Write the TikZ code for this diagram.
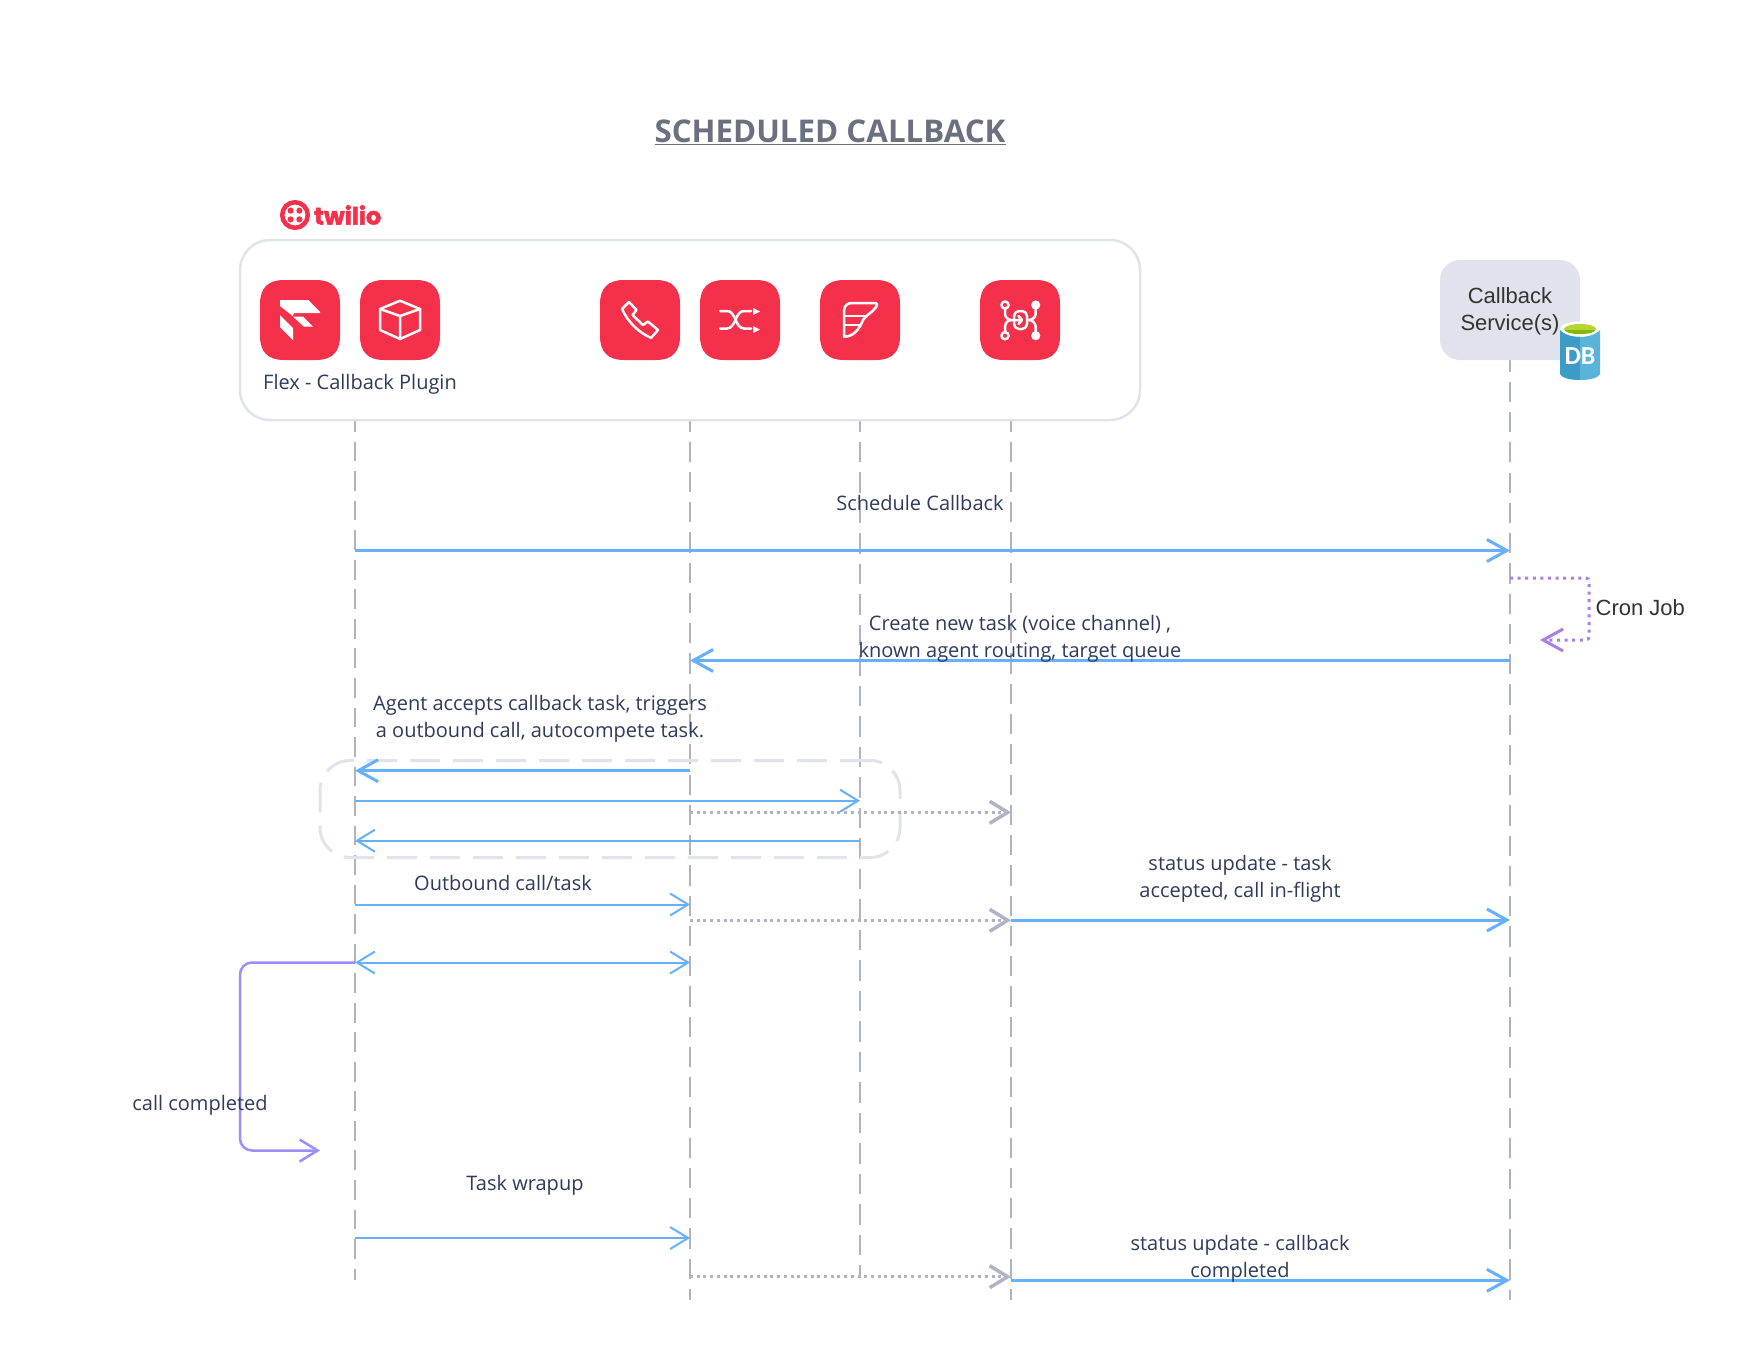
\documentclass[tikz,border=0pt]{standalone}
\usepackage{fontspec}
\setmainfont{Open Sans}
\newfontfamily\arialf{Liberation Sans}
\newfontfamily\dbf{Carlito}
\newfontfamily\logof[BoldFeatures={FakeBold=2}]{Poppins}
\usetikzlibrary{arrows.meta}
\definecolor{flow}{HTML}{66B0FF}
\definecolor{life}{HTML}{B0B3C6}
\definecolor{pale}{HTML}{E0E3EB}
\definecolor{ink}{HTML}{2F3B5C}
\definecolor{tred}{HTML}{F5304B}
\definecolor{lilac}{HTML}{A97FE8}
\definecolor{violet}{HTML}{9B8FFF}
\definecolor{titlec}{HTML}{6B7080}
\definecolor{dbdark}{HTML}{3D9BC8}
\definecolor{dblight}{HTML}{59B4D9}
\definecolor{dblime}{HTML}{B8D432}
\definecolor{dbgreen}{HTML}{7FBA00}
\tikzset{
  lifeline/.style={draw=life,line width=2pt,dash pattern=on 20.2pt off 10.06pt},
  msgbig/.style={draw=flow,line width=3pt,arrows={-Straight Barb[length=20pt,width=22pt,line width=3pt]}},
  msg/.style={draw=flow,line width=2pt,arrows={-Straight Barb[length=18pt,width=22pt,line width=2pt]}},
  msgboth/.style={draw=flow,line width=2pt,arrows={Straight Barb[length=18pt,width=22pt,line width=2pt]-Straight Barb[length=18pt,width=22pt,line width=2pt]}},
  hook/.style={draw=life,line width=2.5pt,dash pattern=on 3pt off 3.7pt,arrows={-Straight Barb[length=18pt,width=22pt,line width=3.5pt]}},
  label/.style={font=\fontsize{20}{27}\selectfont,text=ink,align=center,inner sep=0pt},
  svclabel/.style={font=\arialf\fontsize{22}{27}\selectfont,text=black!80,align=center,inner sep=0pt},
  redicon/.style={fill=tred,draw=none},
  glyph/.style={draw=white,line width=2.5pt,line join=round,line cap=round,fill=none},
  glyphfill/.style={fill=white,draw=none},
  pics/squircle/.style={code={
    \path[redicon] (24,0) -- (56,0) .. controls (72,0) and (80,8) .. (80,24) -- (80,56)
      .. controls (80,72) and (72,80) .. (56,80) -- (24,80)
      .. controls (8,80) and (0,72) .. (0,56) -- (0,24)
      .. controls (0,8) and (8,0) .. (24,0) -- cycle;
  }}
}
\begin{document}
\begin{tikzpicture}[x=1pt,y=-1pt]
\useasboundingbox (0,0) rectangle (1760,1360);
\fill[white] (0,0) rectangle (1760,1360);

% lifelines
\coordinate (lineFlex) at (355,412.2);
\coordinate (lineVoice) at (690,411.4);
\coordinate (lineWing) at (860,411.2);
\coordinate (lineLink) at (1011,411.4);
\coordinate (lineSvc) at (1510,351.5);
\coordinate (endFlex) at (355,1280);
\coordinate (endVoice) at (690,1300);
\coordinate (endWing) at (860,1276);
\coordinate (endLink) at (1011,1300);
\coordinate (endSvc) at (1510,1300);
\draw[lifeline,dash pattern=on 19.7pt off 9.83pt] (lineFlex) -- (endFlex);
\draw[lifeline] (lineVoice) -- (endVoice);
\draw[lifeline,dash pattern=on 20.3pt off 10.2pt] (lineWing) -- (endWing);
\draw[lifeline] (lineLink) -- (endLink);
\draw[lifeline] (lineSvc) -- (endSvc);

% platform frame
\node[draw=pale,fill=white,line width=2.5pt,rounded corners=30pt,minimum width=900pt,minimum height=180pt,inner sep=0pt] (platform) at (690,330) {};

% service box
\node[fill=pale,rounded corners=20pt,minimum width=140pt,minimum height=100pt,inner sep=0pt] (svcbox) at (1510,310) {};
\node[svclabel] (svctext) at (1510,311) {Callback\\Service(s)};

% database
\begin{scope}[shift={(1560,322)}]
  \fill[white] (20,7) ellipse[x radius=20,y radius=7.5];
  \fill[white] (0,7) rectangle (40,14);
  \fill[dbdark] (0,8) .. controls (4,13) and (14,15) .. (20,15) -- (20,58) .. controls (10,58) and (2,56) .. (0,52) -- cycle;
  \fill[dblight] (40,8) .. controls (36,13) and (26,15) .. (20,15) -- (20,58) .. controls (30,58) and (38,56) .. (40,52) -- cycle;
  \fill[dblime] (20,7) ellipse[x radius=16,y radius=5];
  \begin{scope}
    \clip (20,7) ellipse[x radius=16,y radius=5];
    \fill[dbgreen] (4,8) rectangle (36,14);
  \end{scope}
  \node[font=\dbf\bfseries\fontsize{26}{26}\selectfont,text=white,inner sep=0pt] (dbtext) at (20,34) {DB};
\end{scope}

% title
\node[font=\bfseries\fontsize{31.3}{36}\selectfont,text=titlec,inner sep=0pt] (title) at (830,132) {\underline{SCHEDULED CALLBACK}};

% twilio logo
\draw[tred,line width=4.5pt] (295,215) circle[radius=12.8];
\foreach \dx in {-4.4,4.4}\foreach \dy in {-4.4,4.4}{\fill[tred] (295+\dx,215+\dy) circle[radius=3.1];}
\node[font=\logof\bfseries\fontsize{24}{24}\selectfont,text=tred,inner sep=0pt,anchor=west] (twilio) at (314,215) {twilio};

% flex icon
\begin{scope}[shift={(260,280)}]
  \pic {squircle};
  \fill[glyphfill] (20,20) -- (48.3,20) -- (60,32) -- (60,33) -- (34,33) -- (32.7,36) -- (20,26) -- cycle;
  \fill[glyphfill] (33,36.7) -- (43,36.7) -- (53,46.7) -- (44,46.7) -- cycle;
  \fill[glyphfill] (20,35) -- (33,48) -- (33,60) -- (20,47) -- cycle;
\end{scope}
% box icon
\begin{scope}[shift={(360,280)}]
  \pic {squircle};
  \draw[glyph] (40,20.7) -- (60,29) -- (60,50) -- (40,59) -- (20,50) -- (20,29) -- cycle;
  \draw[glyph] (20,29) -- (40,36) -- (60,29) (40,36) -- (40,59);
\end{scope}
% phone icon
\begin{scope}[shift={(600,280)}]
  \pic {squircle};
  \draw[glyph] (22,29) -- (29,22) -- (36.5,30) -- (32.5,35) -- (43,45) -- (48,41.5) -- (58,50) -- (51,58)
     .. controls (38,52) and (28,42) .. (22,29) -- cycle;
\end{scope}
% shuffle icon
\begin{scope}[shift={(700,280)}]
  \pic {squircle};
  \draw[glyph] (20,31) -- (27,31) .. controls (36,31) and (35,48.5) .. (44,48.5) -- (51,48.5);
  \draw[glyph] (20,48.5) -- (27,48.5) .. controls (36,48.5) and (35,31) .. (44,31) -- (51,31);
  \fill[glyphfill] (53,28) -- (60,31.5) -- (53,35) -- cycle;
  \fill[glyphfill] (53,46) -- (60,49.5) -- (53,53) -- cycle;
\end{scope}
% wing icon
\begin{scope}[shift={(820,280)}]
  \pic {squircle};
  \draw[glyph] (24,56.7) -- (24,31) .. controls (24,26) and (27,23) .. (32,23) -- (55,23)
    .. controls (58,23) and (57,26) .. (56,27) .. controls (52,33) and (46,35) .. (43,40) .. controls (39,50) and (33,56.7) .. (24,56.7) -- cycle;
  \draw[glyph] (24,36) -- (46.7,36) (24,45) -- (40,45);
\end{scope}
% link icon
\begin{scope}[shift={(980,280)}]
  \pic {squircle};
  \draw[glyph] (25,25) circle[radius=3.6] (25,55.7) circle[radius=3.6];
  \fill[glyphfill] (55.7,25) circle[radius=4.6] (55.7,55.7) circle[radius=4.6];
  \draw[glyph] (25,29) -- (25,34) .. controls (25,37) and (28,40) .. (31,40) .. controls (28,40) and (25,43) .. (25,47) -- (25,52);
  \draw[glyph] (55.7,29) -- (55.7,34) .. controls (55.7,37) and (52,40) .. (49,40) .. controls (52,40) and (55.7,43) .. (55.7,47) -- (55.7,52);
  \draw[glyph,rounded corners=5pt] (34,31) rectangle (47,49);
  \draw[glyph] (29,40) -- (41,40) (38.5,36) -- (42,40) -- (38.5,44);
\end{scope}

\node[label] (flexlabel) at (360,384.5) {Flex - Callback Plugin};

% group frame
\node[draw=pale,line width=3pt,dash pattern=on 30pt off 13pt,rounded corners=30pt,minimum width=580pt,minimum height=97pt,inner sep=0pt] (group) at (610,809) {};

% messages
\draw[msgbig] (lineFlex |- 0,550.5) -- (lineSvc |- 0,550.5);
\draw[msgbig] (lineSvc |- 0,660.5) -- (lineVoice |- 0,660.5);
\draw[msgbig] (lineVoice |- 0,770.7) -- (lineFlex |- 0,770.7);
\draw[msg] (lineFlex |- 0,800.7) -- (lineWing |- 0,800.7);
\draw[msg] (lineWing |- 0,840.7) -- (lineFlex |- 0,840.7);
\draw[hook] (lineVoice |- 0,812.3) -- (lineLink |- 0,812.3);
\draw[msg] (lineFlex |- 0,904.5) -- (lineVoice |- 0,904.5);
\draw[hook] (lineVoice |- 0,920.3) -- (lineLink |- 0,920.3);
\draw[msgbig] (lineLink |- 0,920) -- (lineSvc |- 0,920);
\draw[msgboth] (lineFlex |- 0,962.5) -- (lineVoice |- 0,962.5);
\draw[msg] (lineFlex |- 0,1238) -- (lineVoice |- 0,1238);
\draw[hook] (lineVoice |- 0,1276.7) -- (lineLink |- 0,1276.7);
\draw[msgbig] (lineLink |- 0,1280.3) -- (lineSvc |- 0,1280.3);

% self loops
\coordinate (cronend) at (1540,640);
\coordinate (completed) at (320,1150.5);
\draw[draw=lilac,line width=3pt,dash pattern=on 3pt off 4.6pt,rounded corners=3pt,arrows={-Straight Barb[length=20pt,width=22pt,line width=3pt]}]
  (lineSvc |- 0,578) -| (1589,640) -- (cronend);
\draw[draw=violet,line width=2.5pt,rounded corners=12pt,arrows={-Straight Barb[length=18pt,width=22pt,line width=2.5pt]}]
  (lineFlex |- 0,962.5) -| (240,1150.5) -- (completed);

% labels
\node[label] (l1) at (920,502.5) {Schedule Callback};
\node[label] (l2) at (1020,638.5) {Create new task (voice channel) ,\\known agent routing, target queue};
\node[label] (l3) at (540,719) {Agent accepts callback task, triggers\\a outbound call, autocompete task.};
\node[label] (l4) at (503,883) {Outbound call/task};
\node[label] (l5) at (1240,878.5) {status update - task\\accepted, call in-flight};
\node[label] (l6) at (200,1105) {call completed};
\node[label] (l7) at (525,1185) {Task wrapup};
\node[label] (l8) at (1240,1259) {status update - callback\\completed};
\node[svclabel,anchor=west] (l9) at (1595.5,608) {Cron Job};
\end{tikzpicture}
\end{document}
